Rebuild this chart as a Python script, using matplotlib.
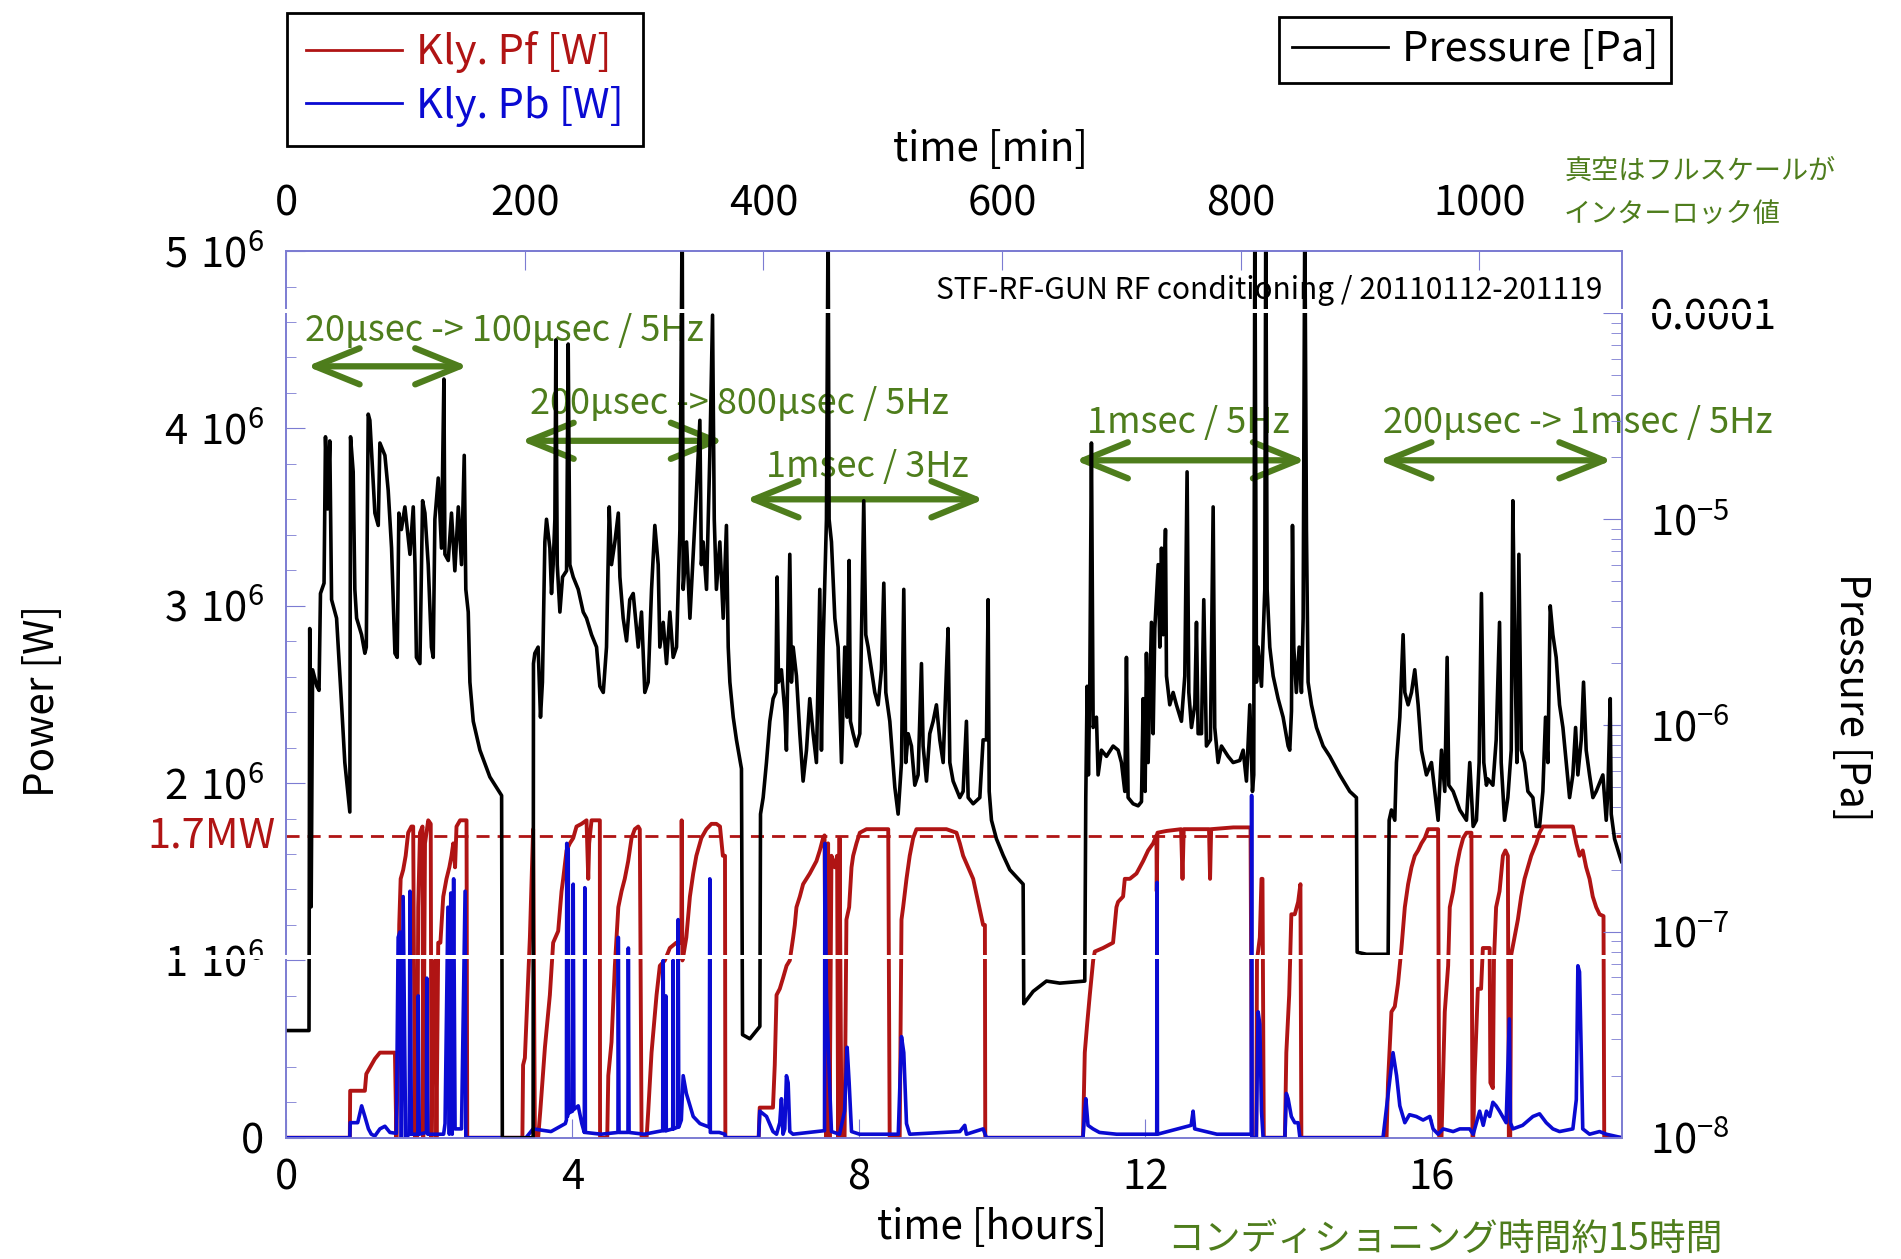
import matplotlib.pyplot as plt
import matplotlib.transforms as mtransforms
from matplotlib.patches import Rectangle
from matplotlib.ticker import MultipleLocator, LogLocator, NullFormatter

plt.rcParams['font.family'] = ['Noto Sans CJK JP', 'DejaVu Sans']

# vacuum pressure, (time [h], log10 of pressure [Pa])
pressure_pts = [
    (0.00, -7.48), (0.32, -7.48), (0.33, -5.53), (0.35, -6.88), (0.37, -5.73), (0.43, -5.81),
    (0.46, -5.83), (0.48, -5.36), (0.53, -5.31), (0.55, -4.60), (0.58, -4.95), (0.61, -4.62),
    (0.635, -5.39), (0.705, -5.48), (0.775, -5.90), (0.82, -6.18), (0.89, -6.42), (0.90, -4.60),
    (0.937, -4.77), (0.96, -5.34), (0.985, -5.48), (1.054, -5.56), (1.10, -5.65), (1.12, -5.62),
    (1.147, -4.49), (1.17, -4.52), (1.24, -4.97), (1.287, -5.03), (1.31, -4.63), (1.38, -4.69),
    (1.426, -4.86), (1.473, -5.14), (1.52, -5.65), (1.552, -5.67), (1.575, -4.97), (1.61, -5.05),
    (1.659, -4.94), (1.73, -5.17), (1.776, -4.94), (1.80, -5.22), (1.82, -5.67), (1.869, -5.70),
    (1.906, -4.91), (1.939, -4.97), (1.985, -5.22), (2.03, -5.62), (2.055, -5.67), (2.078, -5.00),
    (2.125, -4.80), (2.17, -5.14), (2.204, -4.32), (2.218, -5.17), (2.265, -5.20), (2.31, -4.97),
    (2.357, -5.25), (2.405, -4.94), (2.45, -5.22), (2.488, -4.69), (2.51, -5.34), (2.544, -5.45),
    (2.567, -5.79), (2.614, -5.98), (2.707, -6.12), (2.846, -6.25), (3.01, -6.34), (3.02, -8.0),
    (3.45, -8.0), (3.455, -5.70), (3.474, -5.65), (3.52, -5.62), (3.553, -5.96), (3.58, -5.79),
    (3.614, -5.11), (3.637, -5.00), (3.684, -5.14), (3.707, -5.36), (3.73, -5.22), (3.754, -5.00),
    (3.768, -4.13), (3.787, -5.22), (3.824, -5.45), (3.861, -5.28), (3.917, -5.25), (3.94, -4.15),
    (3.963, -5.22), (4.01, -5.28), (4.08, -5.34), (4.15, -5.45), (4.196, -5.48), (4.266, -5.56),
    (4.336, -5.62), (4.382, -5.81), (4.43, -5.84), (4.475, -5.62), (4.513, -4.94), (4.545, -5.22),
    (4.592, -5.11), (4.64, -4.97), (4.662, -5.28), (4.708, -5.48), (4.755, -5.59), (4.80, -5.39),
    (4.848, -5.36), (4.918, -5.62), (4.964, -5.45), (5.01, -5.84), (5.057, -5.79), (5.104, -5.34),
    (5.15, -5.03), (5.197, -5.22), (5.22, -5.62), (5.267, -5.50), (5.313, -5.70), (5.36, -5.45),
    (5.406, -5.67), (5.453, -5.62), (5.50, -5.05), (5.532, -3.5), (5.546, -5.34), (5.593, -5.11),
    (5.64, -5.48), (5.686, -5.17), (5.732, -4.86), (5.779, -4.52), (5.80, -5.22), (5.825, -5.11),
    (5.872, -5.34), (5.918, -4.69), (5.956, -4.01), (5.98, -5.00), (6.01, -5.34), (6.058, -5.11),
    (6.105, -5.48), (6.15, -5.03), (6.175, -5.62), (6.198, -5.79), (6.245, -5.96), (6.29, -6.07),
    (6.36, -6.21), (6.375, -7.50), (6.477, -7.52), (6.617, -7.46), (6.626, -6.43), (6.663, -6.35),
    (6.709, -6.18), (6.756, -5.98), (6.802, -5.87), (6.84, -5.84), (6.858, -5.28), (6.877, -5.79),
    (6.918, -5.73), (6.965, -5.93), (6.988, -6.12), (7.012, -5.62), (7.035, -5.17), (7.058, -5.79),
    (7.082, -5.62), (7.128, -5.76), (7.175, -6.04), (7.221, -6.27), (7.268, -6.12), (7.314, -5.87),
    (7.361, -6.04), (7.407, -6.18), (7.454, -5.34), (7.477, -6.12), (7.50, -5.62), (7.547, -5.00),
    (7.57, -3.5), (7.584, -5.00), (7.617, -5.11), (7.664, -5.48), (7.71, -5.62), (7.757, -6.18),
    (7.803, -5.62), (7.836, -5.96), (7.864, -5.20), (7.882, -5.98), (7.92, -6.04), (7.966, -6.10),
    (8.013, -6.04), (8.036, -5.56), (8.068, -4.91), (8.096, -5.56), (8.129, -5.62), (8.176, -5.73),
    (8.222, -5.84), (8.269, -5.90), (8.315, -5.73), (8.348, -5.31), (8.376, -5.84), (8.432, -5.98),
    (8.502, -6.30), (8.548, -6.43), (8.595, -6.18), (8.627, -5.34), (8.655, -6.18), (8.688, -6.04),
    (8.734, -6.10), (8.781, -6.29), (8.827, -6.24), (8.874, -5.70), (8.897, -6.10), (8.944, -6.27),
    (8.99, -6.04), (9.037, -5.98), (9.083, -5.90), (9.13, -6.07), (9.177, -6.18), (9.223, -5.73),
    (9.246, -5.53), (9.27, -6.18), (9.316, -6.27), (9.409, -6.35), (9.456, -6.32), (9.502, -5.98),
    (9.526, -6.35), (9.596, -6.38), (9.689, -6.35), (9.735, -6.07), (9.782, -6.07), (9.805, -5.39),
    (9.82, -6.32), (9.852, -6.46), (9.921, -6.55), (10.015, -6.63), (10.108, -6.70), (10.294, -6.77),
    (10.303, -7.35), (10.434, -7.29), (10.62, -7.24), (10.806, -7.25), (11.155, -7.24), (11.169, -6.35),
    (11.188, -5.81), (11.206, -6.24), (11.225, -5.81), (11.248, -4.63), (11.272, -6.01), (11.318, -5.96),
    (11.341, -6.24), (11.388, -6.12), (11.458, -6.15), (11.551, -6.10), (11.621, -6.12), (11.667, -6.18),
    (11.714, -6.32), (11.737, -5.67), (11.76, -6.35), (11.83, -6.38), (11.90, -6.39), (11.947, -6.37),
    (11.97, -5.87), (11.998, -6.32), (12.016, -5.65), (12.04, -6.18), (12.086, -5.50), (12.11, -6.04),
    (12.133, -5.53), (12.18, -5.22), (12.203, -5.62), (12.226, -5.14), (12.25, -5.56), (12.282, -5.05),
    (12.296, -5.76), (12.342, -5.90), (12.389, -5.84), (12.435, -5.90), (12.505, -5.98), (12.552, -5.76),
    (12.584, -4.77), (12.608, -5.84), (12.645, -6.01), (12.692, -5.90), (12.715, -5.50), (12.738, -6.04),
    (12.785, -6.04), (12.817, -5.39), (12.854, -6.10), (12.91, -6.07), (12.948, -4.94), (12.97, -6.01),
    (13.017, -6.18), (13.064, -6.10), (13.157, -6.15), (13.227, -6.18), (13.32, -6.17), (13.367, -6.12),
    (13.413, -6.27), (13.46, -5.90), (13.497, -6.32), (13.515, -6.24), (13.53, -3.5), (13.553, -5.79),
    (13.576, -5.62), (13.623, -5.81), (13.669, -5.34), (13.683, -3.5), (13.702, -5.34), (13.739, -5.62),
    (13.786, -5.76), (13.855, -5.87), (13.925, -5.96), (13.995, -6.10), (14.018, -6.12), (14.042, -5.93),
    (14.056, -5.03), (14.074, -5.62), (14.11, -5.84), (14.149, -5.62), (14.181, -5.84), (14.205, -5.48),
    (14.228, -3.5), (14.251, -5.05), (14.274, -5.79), (14.321, -5.90), (14.391, -6.01), (14.484, -6.10),
    (14.577, -6.15), (14.717, -6.24), (14.856, -6.32), (14.949, -6.35), (14.959, -7.10), (15.09, -7.11),
    (15.275, -7.11), (15.392, -7.11), (15.406, -6.46), (15.438, -6.41), (15.485, -6.46), (15.508, -6.18),
    (15.555, -5.96), (15.601, -5.56), (15.625, -5.84), (15.671, -5.90), (15.718, -5.84), (15.764, -5.73),
    (15.811, -5.90), (15.857, -6.12), (15.927, -6.24), (15.997, -6.18), (16.043, -6.32), (16.09, -6.46),
    (16.137, -6.12), (16.183, -6.32), (16.216, -5.67), (16.239, -6.29), (16.30, -6.32), (16.393, -6.41),
    (16.486, -6.46), (16.532, -6.18), (16.579, -6.49), (16.625, -6.46), (16.663, -6.18), (16.695, -5.36),
    (16.728, -6.18), (16.765, -6.29), (16.785, -6.26), (16.855, -6.29), (16.901, -6.07), (16.948, -5.50),
    (16.971, -6.18), (17.018, -6.46), (17.064, -6.35), (17.111, -6.12), (17.134, -4.91), (17.158, -5.56),
    (17.19, -6.18), (17.218, -5.17), (17.251, -6.12), (17.297, -6.18), (17.344, -6.32), (17.414, -6.35),
    (17.46, -6.49), (17.507, -6.49), (17.553, -6.32), (17.59, -5.96), (17.623, -6.18), (17.656, -5.42),
    (17.693, -5.56), (17.739, -5.67), (17.786, -5.90), (17.833, -6.01), (17.879, -6.18), (17.926, -6.35),
    (17.972, -6.24), (18.01, -6.01), (18.042, -6.24), (18.089, -6.07), (18.121, -5.79), (18.158, -6.12),
    (18.205, -6.24), (18.252, -6.35), (18.298, -6.32), (18.368, -6.26), (18.391, -6.24), (18.438, -6.46),
    (18.461, -6.32), (18.494, -5.87), (18.508, -6.43), (18.554, -6.55), (18.624, -6.63), (18.652, -6.66),
]

# klystron forward power, (time [h], MW)
pf_pts = [
    (0.00, 0), (0.89, 0), (0.895, 0.265), (1.10, 0.265), (1.12, 0.36), (1.24, 0.445), (1.31, 0.48),
    (1.52, 0.48), (1.54, 0), (1.565, 0.54), (1.58, 1.20), (1.60, 1.46), (1.635, 1.51), (1.67, 1.59),
    (1.705, 1.72), (1.75, 1.755), (1.775, 1.755), (1.80, 0), (1.83, 0), (1.845, 1.30), (1.87, 1.72),
    (1.905, 1.755), (1.915, 0), (1.94, 1.66), (1.985, 1.79), (2.02, 1.77), (2.03, 0), (2.055, 0.805),
    (2.08, 1.0), (2.10, 0), (2.125, 1.10), (2.155, 1.10), (2.195, 1.36), (2.24, 1.46), (2.28, 1.525),
    (2.31, 1.59), (2.335, 1.66), (2.36, 1.525), (2.38, 1.755), (2.43, 1.79), (2.52, 1.79), (2.53, 0),
    (3.30, 0), (3.31, 0.41), (3.335, 0.45), (3.405, 1.13), (3.45, 1.74), (3.475, 0), (3.52, 0),
    (3.55, 0.15), (3.615, 0.51), (3.684, 0.805), (3.73, 1.10), (3.80, 1.165), (3.847, 1.39),
    (3.87, 1.46), (3.917, 1.62), (3.963, 1.66), (4.01, 1.69), (4.056, 1.755), (4.126, 1.77),
    (4.196, 1.79), (4.22, 1.46), (4.233, 1.66), (4.266, 1.79), (4.382, 1.79), (4.385, 0), (4.485, 0),
    (4.50, 0.35), (4.545, 0.54), (4.592, 0.97), (4.64, 1.30), (4.685, 1.39), (4.73, 1.46), (4.778, 1.56),
    (4.825, 1.69), (4.87, 1.74), (4.918, 1.755), (4.94, 1.74), (4.965, 0), (5.035, 0), (5.058, 0.15),
    (5.104, 0.48), (5.174, 0.805), (5.22, 0.97), (5.29, 1.0), (5.36, 1.07), (5.45, 1.10), (5.52, 1.10),
    (5.525, 1.79), (5.535, 1.0), (5.55, 1.03), (5.59, 1.13), (5.64, 1.36), (5.686, 1.49), (5.73, 1.59),
    (5.80, 1.69), (5.87, 1.74), (5.94, 1.77), (6.01, 1.77), (6.06, 1.755), (6.10, 1.59), (6.13, 1.59),
    (6.135, 0), (6.60, 0), (6.615, 0.17), (6.80, 0.17), (6.825, 0.41), (6.85, 0.805), (6.895, 0.84),
    (6.94, 0.90), (6.99, 0.97), (7.035, 1.0), (7.082, 1.13), (7.105, 1.20), (7.128, 1.30), (7.175, 1.36),
    (7.221, 1.43), (7.268, 1.46), (7.314, 1.49), (7.361, 1.525), (7.407, 1.56), (7.454, 1.62),
    (7.50, 1.69), (7.52, 1.705), (7.545, 0), (7.57, 1.66), (7.59, 0), (7.617, 1.59), (7.664, 1.525),
    (7.696, 1.59), (7.71, 0), (7.73, 1.69), (7.757, 0), (7.80, 0), (7.826, 1.23), (7.864, 1.30),
    (7.897, 1.525), (7.92, 1.59), (7.966, 1.66), (8.013, 1.72), (8.106, 1.74), (8.41, 1.74), (8.43, 0),
    (8.57, 0), (8.595, 1.23), (8.618, 1.30), (8.665, 1.46), (8.71, 1.59), (8.758, 1.69), (8.804, 1.74),
    (9.223, 1.74), (9.363, 1.72), (9.41, 1.66), (9.456, 1.59), (9.526, 1.525), (9.596, 1.46),
    (9.666, 1.33), (9.735, 1.20), (9.76, 1.20), (9.765, 0), (11.13, 0), (11.155, 0.48), (11.188, 0.64),
    (11.225, 0.805), (11.272, 1.0), (11.295, 1.05), (11.41, 1.07), (11.55, 1.10), (11.597, 1.30),
    (11.62, 1.33), (11.69, 1.36), (11.714, 1.46), (11.784, 1.46), (11.877, 1.49), (11.97, 1.56),
    (12.04, 1.62), (12.11, 1.66), (12.156, 1.705), (12.16, 1.39), (12.17, 1.72), (12.296, 1.73),
    (12.50, 1.74), (12.52, 1.46), (12.537, 1.74), (12.89, 1.74), (12.905, 1.46), (12.92, 1.74),
    (13.23, 1.75), (13.47, 1.75), (13.49, 0), (13.55, 0), (13.56, 1.0), (13.60, 1.13), (13.623, 1.46),
    (13.637, 1.46), (13.655, 0), (13.95, 0), (13.97, 0.48), (14.01, 0.805), (14.04, 1.26), (14.088, 1.26),
    (14.135, 1.33), (14.167, 1.43), (14.18, 0), (15.37, 0), (15.39, 0.31), (15.438, 0.71), (15.485, 0.74),
    (15.53, 0.87), (15.578, 1.07), (15.625, 1.30), (15.671, 1.43), (15.718, 1.525), (15.764, 1.59),
    (15.81, 1.62), (15.857, 1.66), (15.904, 1.69), (15.95, 1.74), (16.09, 1.74), (16.105, 0),
    (16.137, 0), (16.183, 0.71), (16.23, 0.97), (16.253, 1.30), (16.30, 1.39), (16.346, 1.525),
    (16.393, 1.62), (16.44, 1.69), (16.486, 1.72), (16.555, 1.72), (16.57, 0), (16.58, 0), (16.60, 0.35),
    (16.645, 0.84), (16.69, 0.84), (16.715, 1.07), (16.81, 1.07), (16.82, 0.31), (16.855, 0.28),
    (16.87, 1.0), (16.90, 1.30), (16.948, 1.39), (16.995, 1.59), (17.03, 1.62), (17.064, 1.59),
    (17.078, 0), (17.097, 0), (17.11, 1.03), (17.157, 1.13), (17.204, 1.23), (17.25, 1.36),
    (17.297, 1.46), (17.344, 1.525), (17.39, 1.59), (17.46, 1.66), (17.507, 1.72), (17.553, 1.755),
    (17.972, 1.755), (18.02, 1.66), (18.065, 1.59), (18.11, 1.62), (18.158, 1.525), (18.205, 1.46),
    (18.25, 1.36), (18.298, 1.30), (18.345, 1.26), (18.40, 1.25), (18.41, 0), (18.66, 0),
]

# klystron reflected power, (time [h], MW)
pb_pts = [
    (0.00, 0), (0.89, 0), (0.895, 0.085), (1.00, 0.085), (1.055, 0.18), (1.10, 0.12), (1.15, 0.05),
    (1.19, 0.02), (1.24, 0.01), (1.31, 0.05), (1.38, 0.065), (1.45, 0.03), (1.54, 0.025), (1.565, 1.13),
    (1.59, 1.16), (1.61, 0), (1.635, 1.36), (1.67, 0), (1.72, 0.02), (1.73, 1.39), (1.75, 0.02),
    (1.84, 0.02), (1.845, 0.8), (1.86, 0.02), (1.96, 0.03), (1.965, 0.9), (1.98, 0.02), (2.20, 0.02),
    (2.22, 0.08), (2.26, 1.30), (2.28, 0.02), (2.30, 1.38), (2.32, 0.02), (2.34, 1.46), (2.36, 0.05),
    (2.45, 0.05), (2.50, 1.39), (2.51, 0), (3.35, 0), (3.45, 0.05), (3.70, 0.035), (3.90, 0.08),
    (3.915, 0.10), (3.92, 1.66), (3.93, 0.12), (3.94, 1.63), (3.95, 0.14), (4.00, 0.15), (4.01, 1.43),
    (4.02, 0.16), (4.08, 0.18), (4.13, 0.08), (4.165, 0.03), (4.172, 1.41), (4.18, 0.03), (4.40, 0.02),
    (4.635, 0.03), (4.64, 1.13), (4.65, 0.03), (4.775, 0.03), (4.78, 1.07), (4.79, 0.03), (5.0, 0.02),
    (5.26, 0.04), (5.267, 1.0), (5.275, 0.04), (5.30, 0.04), (5.304, 0.8), (5.31, 0.04), (5.40, 0.05),
    (5.406, 1.0), (5.412, 0.05), (5.47, 0.06), (5.476, 1.23), (5.485, 0.06), (5.52, 0.10),
    (5.546, 0.35), (5.59, 0.25), (5.686, 0.12), (5.78, 0.08), (5.91, 0.06), (5.918, 1.46),
    (5.925, 0.03), (6.05, 0.03), (6.13, 0.02), (6.14, 0), (6.60, 0), (6.616, 0.15), (6.71, 0.12),
    (6.80, 0.035), (6.85, 0.02), (6.895, 0.085), (6.918, 0.22), (6.94, 0.02), (6.965, 0.05),
    (6.988, 0.35), (7.012, 0.31), (7.035, 0.035), (7.08, 0.02), (7.52, 0.04), (7.525, 1.66),
    (7.547, 0.80), (7.57, 0.54), (7.59, 0.31), (7.617, 0.035), (7.73, 0.02), (7.80, 0.15),
    (7.836, 0.51), (7.864, 0.31), (7.897, 0.035), (8.01, 0.02), (8.55, 0.02), (8.571, 0.28),
    (8.595, 0.57), (8.627, 0.48), (8.665, 0.08), (8.71, 0.02), (9.41, 0.035), (9.479, 0.07),
    (9.502, 0.02), (9.735, 0.05), (9.782, 0), (11.13, 0), (11.155, 0.15), (11.17, 0.22), (11.20, 0.07),
    (11.27, 0.05), (11.36, 0.03), (11.6, 0.02), (12.16, 0.02), (12.165, 1.44), (12.17, 0.02),
    (12.64, 0.07), (12.668, 0.15), (12.69, 0.05), (13.0, 0.02), (13.48, 0.02), (13.485, 1.93),
    (13.49, 0), (13.55, 0), (13.576, 0.71), (13.60, 0.64), (13.623, 0.15), (13.646, 0), (13.95, 0),
    (13.97, 0.25), (13.995, 0.22), (14.04, 0.12), (14.088, 0.085), (14.135, 0.085), (14.16, 0),
    (15.32, 0), (15.41, 0.31), (15.46, 0.48), (15.51, 0.35), (15.555, 0.18), (15.625, 0.085),
    (15.69, 0.13), (15.785, 0.12), (15.88, 0.10), (15.974, 0.12), (16.02, 0.05), (16.09, 0.02),
    (16.16, 0.05), (16.30, 0.035), (16.393, 0.05), (16.53, 0.05), (16.58, 0.02), (16.625, 0.085),
    (16.67, 0.15), (16.72, 0.07), (16.765, 0.15), (16.81, 0.12), (16.855, 0.2), (16.90, 0.18),
    (16.948, 0.15), (17.04, 0.085), (17.085, 0.67), (17.10, 0.085), (17.134, 0.05), (17.27, 0.07),
    (17.414, 0.12), (17.507, 0.135), (17.60, 0.085), (17.693, 0.05), (17.786, 0.035), (17.972, 0.05),
    (18.02, 0.215), (18.042, 0.97), (18.065, 0.935), (18.089, 0.48), (18.11, 0.05), (18.205, 0.02),
    (18.345, 0.035), (18.44, 0.02), (18.66, 0),
]

power_ticks = [0, 1e6, 2e6, 3e6, 4e6, 5e6]
power_labels = ['0'] + [r'$\mathregular{%d\ 10^{6}}$' % i for i in range(1, 6)]
pressure_ticks = [1e-8, 1e-7, 1e-6, 1e-5, 1e-4]
pressure_labels = [r'$\mathregular{10^{-8}}$', r'$\mathregular{10^{-7}}$',
                   r'$\mathregular{10^{-6}}$', r'$\mathregular{10^{-5}}$', '0.0001']
hour_ticks = [0, 4, 8, 12, 16]
minute_ticks = [0, 200, 400, 600, 800, 1000]
threshold_w = 1.7e6

# (text, text start [h], text y [W], arrow from [h], arrow to [h], arrow y [W])
phase_notes = [
    ('20µsec -> 100µsec / 5Hz', 0.27, 4.55e6, 0.29, 2.54, 4.35e6),
    ('200µsec -> 800µsec / 5Hz', 3.40, 4.14e6, 3.28, 6.11, 3.93e6),
    ('1msec / 3Hz', 6.70, 3.78e6, 6.42, 9.75, 3.60e6),
    ('1msec / 5Hz', 11.19, 4.03e6, 11.02, 14.24, 3.82e6),
    ('200µsec -> 1msec / 5Hz', 15.32, 4.03e6, 15.26, 18.52, 3.82e6),
]

red = '#b01414'
blue = '#0a0ad2'
green = '#4e7d1c'
frame = '#7c7cd2'

fig = plt.figure(figsize=(19.01, 12.59), dpi=100)
ax = fig.add_axes([0.1505, 0.0963, 0.7028, 0.7043])
ax2 = ax.twinx()

pf_h, pf_mw = zip(*pf_pts)
pb_h, pb_mw = zip(*pb_pts)
p_h, p_log = zip(*pressure_pts)

line_pf, = ax.plot(pf_h, [v * 1e6 for v in pf_mw], color=red, lw=2.8)
line_pb, = ax.plot(pb_h, [v * 1e6 for v in pb_mw], color=blue, lw=2.6)
line_p, = ax2.plot(p_h, [10 ** v for v in p_log], color='black', lw=2.6)

ax.axhline(threshold_w, color=red, lw=2, ls=(0, (4.7, 2.9)))
ax.text(-0.008, threshold_w, '1.7MW', color=red, fontsize=30, ha='right', va='center',
        transform=mtransforms.blended_transform_factory(ax.transAxes, ax.transData))

ax.set_xlim(0, 18.66)
ax.set_ylim(0, 5e6)
ax2.set_yscale('log')
ax2.set_ylim(1e-8, 2e-4)

ax.set_xticks(hour_ticks)
ax.set_yticks(power_ticks, labels=power_labels)
ax.yaxis.set_minor_locator(MultipleLocator(2e5))
ax2.set_yticks(pressure_ticks, labels=pressure_labels)
ax2.yaxis.set_minor_locator(LogLocator(base=10, subs=range(2, 10)))
ax2.yaxis.set_minor_formatter(NullFormatter())

ax.tick_params(which='both', direction='in', color=frame, labelsize=30)
ax.tick_params(axis='y', which='major', length=14, pad=16)
ax.tick_params(axis='y', which='minor', length=7)
ax.tick_params(axis='x', length=14, pad=14)
ax2.tick_params(axis='y', which='both', direction='in', color=frame, labelsize=30, pad=20)
ax2.tick_params(axis='y', which='major', length=14)
ax2.tick_params(axis='y', which='minor', length=8)

sec = ax.secondary_xaxis('top', functions=(lambda h: h * 60, lambda m: m / 60))
sec.set_xticks(minute_ticks)
sec.tick_params(direction='in', color=frame, length=14, labelsize=30, pad=19)

for a in (ax, ax2, sec):
    for s in a.spines.values():
        s.set_color(frame)
        s.set_linewidth(1.2)

for text, tx, ty, x0, x1, ay in phase_notes:
    ax.text(tx, ty, text, color=green, fontsize=26, ha='left', va='center')
    ax.annotate('', xy=(x1, ay), xytext=(x0, ay),
                arrowprops=dict(arrowstyle='<->,head_length=1.6,head_width=0.65',
                                mutation_scale=20, lw=4.5, color=green,
                                shrinkA=0, shrinkB=0))

ax.text(0.9855, 0.955, 'STF-RF-GUN RF conditioning / 20110112-201119',
        transform=ax.transAxes, ha='right', va='center', fontsize=21.5)

fig.text(0.522, 0.025, 'time [hours]', ha='center', va='center', fontsize=29)
fig.text(0.521, 0.8815, 'time [min]', ha='center', va='center', fontsize=29)
fig.text(0.0223, 0.443, 'Power [W]', ha='center', va='center', rotation=90, fontsize=29)
fig.text(0.974, 0.446, 'Pressure [Pa]', ha='center', va='center', rotation=270, fontsize=29)
fig.text(0.760, 0.0154, 'コンディショニング時間約15時間', ha='center', va='center',
         color=green, fontsize=26.5)
fig.text(0.8227, 0.864, '真空はフルスケールが', ha='left', va='center', color=green, fontsize=19.5)
fig.text(0.8227, 0.830, 'インターロック値', ha='left', va='center', color=green, fontsize=19.5)

leg_kw = dict(fontsize=30, labelcolor='linecolor', fancybox=False, edgecolor='black',
              framealpha=1, handlelength=2.3, handletextpad=0.35, borderpad=0.45,
              labelspacing=0.3, borderaxespad=0, bbox_transform=fig.transFigure)
leg1 = fig.legend([line_pf, line_pb], ['Kly. Pf [W]', 'Kly. Pb [W]'], loc='upper left',
                  bbox_to_anchor=(0.151, 0.990), **leg_kw)
leg2 = fig.legend([line_p], ['Pressure [Pa]'], loc='upper left',
                  bbox_to_anchor=(0.673, 0.9865), **dict(leg_kw, borderpad=0.3))
for leg in (leg1, leg2):
    leg.get_frame().set_linewidth(2)
    for h in leg.legend_handles:
        h.set_linewidth(2)

# thin white stripes that cut across the original plot
band_tf = mtransforms.blended_transform_factory(fig.transFigure, ax.transData)
for x0, x1, y0, y1 in [(0.0857, 0.845, 1.006e6, 1.028e6), (0.150, 0.94, 4.652e6, 4.675e6)]:
    fig.add_artist(Rectangle((x0, y0), x1 - x0, y1 - y0, transform=band_tf,
                             facecolor='white', edgecolor='none', zorder=10))

fig.savefig('out.png', dpi=100)
